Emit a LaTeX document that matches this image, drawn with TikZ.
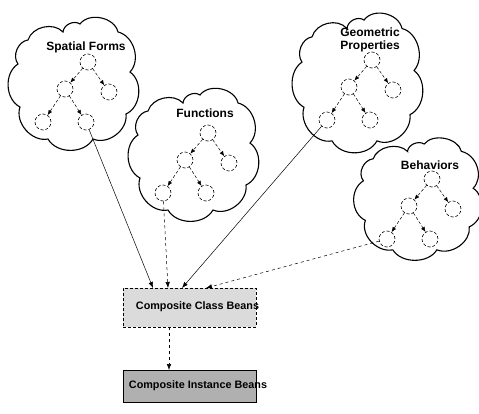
\documentclass[tikz,border=0pt]{standalone}
\usepackage{fontspec}
\setmainfont{Liberation Sans}
\usetikzlibrary{arrows.meta,calc}
\tikzset{
  circ/.style={circle,draw,densely dashed,line width=0.6pt,minimum size=16pt,inner sep=0pt},
  tarrow/.style={-{Latex[length=5pt,width=4pt]},densely dashed,line width=0.5pt},
  cloudline/.style={line width=1.1pt},
  ctext/.style={font=\fontsize{12}{14}\selectfont\bfseries,align=center},
  btext/.style={font=\fontsize{10.8}{12}\selectfont\bfseries},
  link/.style={-{Latex[length=6pt,width=4.5pt]},line width=0.5pt},
  dlink/.style={link,dashed},
  classbox/.style={draw,densely dashed,line width=0.7pt,fill=gray!28,minimum width=133pt,minimum height=39pt,inner sep=0pt},
  instbox/.style={draw,line width=0.9pt,fill=gray!62,minimum width=133pt,minimum height=32pt,inner sep=0pt}
}
% cloud around a tree root at (#1,#2), scaled by #3 (x) and #4 (y)
\newcommand\mycloudat[4]{%
  \begin{scope}[shift={(#1,#2)},xscale=#3,yscale=#4]
  \draw[cloudline] (-25,-30) to[bend left=60] (-8,-38) to[bend left=65] (30,-30)
    to[bend left=60] (42,10) to[bend left=60] (38,52) to[bend left=60] (5,77)
    to[bend left=60] (-40,77) to[bend left=60] (-68,45) to[bend left=60] (-70,2)
    to[bend left=60] (-60,-22) to[bend left=60] cycle;
  \end{scope}}
% tree of five dashed circles, prefix #1, root at (#2,#3)
\newcommand\mytree[3]{%
  \node[circ] (#1r) at (#2,#3) {};
  \node[circ] (#1a) at ($(#2,#3)+(-23,27)$) {};
  \node[circ] (#1b) at ($(#2,#3)+(21,30)$) {};
  \node[circ] (#1c) at ($(#2,#3)+(-45,60)$) {};
  \node[circ] (#1d) at ($(#2,#3)+(-2,60)$) {};
  \draw[tarrow] (#1r) -- (#1a);
  \draw[tarrow] (#1r) -- (#1b);
  \draw[tarrow] (#1a) -- (#1c);
  \draw[tarrow] (#1a) -- (#1d);}
\begin{document}
\begin{tikzpicture}[x=1pt,y=-1pt]
\useasboundingbox[fill=white] (0,0) rectangle (479,413);
% clouds
\mycloudat{88}{62}{1}{1}
\mycloudat{208}{133}{1}{1}
\mycloudat{372}{60}{1}{1.05}
\mycloudat{432}{179}{0.98}{0.92}
% labels
\node[ctext] (lsf) at (86,47) {Spatial Forms};
\node[ctext] (lfn) at (205,113) {Functions};
\node[ctext] (lgp) at (370,40) {Geometric\\[-1pt]Properties};
\node[ctext] (lbh) at (430,165) {Behaviors};
% trees
\mytree{s}{88}{62}
\mytree{f}{208}{133}
\mytree{g}{372}{60}
\mytree{b}{432}{179}
% boxes
\node[classbox] (cls) at (189.5,307.5) {};
\node[btext] (clst) at (197.5,307) {Composite Class Beans};
\node[instbox] (ins) at (189.5,386) {};
\node[btext] (inst) at (198,386) {Composite Instance Beans};
% connector end points on the class box
\coordinate (e1) at (153,288);
\coordinate (e2) at (168,288);
\coordinate (e3) at (182,288);
\coordinate (e4) at (206,288);
\coordinate (e5) at (169,370);
\coordinate (e0) at (169,327);
\draw[link] (sd) -- (e1);
\draw[dlink] (fc) -- (e2);
\draw[link] (gc) -- (e3);
\draw[dlink] (bc) -- (e4);
\draw[dlink] (e0) -- (e5);
\end{tikzpicture}
\end{document}
